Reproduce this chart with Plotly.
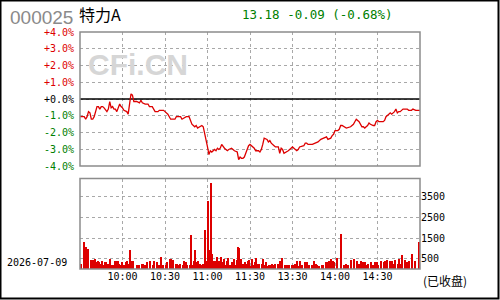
import plotly.graph_objects as go

# ---------------- data ----------------
PREV_CLOSE = 13.27
LAST_PRICE = 13.18
CODE = "000025"
NAME = "特力A"
DATE = "2026-07-09"
STATUS = "(已收盘)"

price_minutes = [0, 3, 4, 5, 6, 7, 8, 9, 10, 11, 12, 13, 14, 15, 16, 17, 19, 20, 21, 22,
                 23, 24, 25, 26, 27, 28, 29, 30, 31, 33, 34, 35, 36, 37, 38, 40, 42, 43, 44, 46,
                 48, 49, 51, 53, 55, 56, 59, 60, 62, 64, 67, 68, 71, 72, 74, 75, 77, 78, 79, 81,
                 82, 83, 85, 86, 87, 88, 89, 90, 91, 92, 93, 94, 95, 96, 97, 98, 99, 100, 101, 102,
                 104, 105, 107, 108, 109, 111, 112, 113, 114, 115, 116, 117, 118, 119, 120, 121, 123, 124, 126, 127,
                 128, 129, 130, 132, 133, 134, 135, 137, 138, 140, 141, 142, 143, 144, 146, 147, 148, 150, 151, 153,
                 154, 155, 158, 159, 160, 161, 164, 166, 168, 170, 172, 174, 175, 177, 178, 179, 180, 181, 182, 183,
                 184, 185, 187, 188, 191, 193, 194, 195, 197, 198, 199, 200, 201, 202, 203, 204, 205, 207, 208, 209,
                 210, 211, 214, 215, 216, 218, 219, 220, 222, 223, 224, 225, 226, 227, 228, 231, 232, 234, 235, 237,
                 240]
price_values = [13.13, 13.13, 13.11, 13.13, 13.17, 13.16, 13.11, 13.11, 13.13, 13.17, 13.21, 13.21, 13.19, 13.21, 13.21, 13.20, 13.17, 13.19, 13.25, 13.20,
                13.21, 13.19, 13.19, 13.17, 13.21, 13.23, 13.21, 13.20, 13.18, 13.17, 13.15, 13.25, 13.31, 13.30, 13.25, 13.25, 13.24, 13.26, 13.24, 13.23,
                13.23, 13.21, 13.21, 13.17, 13.17, 13.18, 13.18, 13.17, 13.15, 13.11, 13.11, 13.13, 13.13, 13.11, 13.12, 13.13, 13.13, 13.09, 13.07, 13.05,
                13.06, 13.04, 13.05, 13.06, 13.05, 13.00, 12.96, 12.89, 12.83, 12.86, 12.85, 12.86, 12.87, 12.86, 12.88, 12.87, 12.88, 12.91, 12.89, 12.88,
                12.86, 12.87, 12.88, 12.87, 12.86, 12.85, 12.79, 12.81, 12.80, 12.80, 12.81, 12.84, 12.88, 12.90, 12.91, 12.90, 12.88, 12.86, 12.86, 12.85,
                12.87, 12.91, 12.96, 12.95, 12.93, 12.94, 12.92, 12.90, 12.89, 12.89, 12.84, 12.88, 12.87, 12.84, 12.85, 12.86, 12.87, 12.89, 12.88, 12.86,
                12.87, 12.89, 12.90, 12.92, 12.92, 12.91, 12.91, 12.92, 12.93, 12.95, 12.96, 12.97, 12.95, 12.96, 12.98, 12.99, 13.02, 13.02, 13.02, 13.03,
                13.06, 13.06, 13.05, 13.04, 13.05, 13.07, 13.09, 13.11, 13.09, 13.07, 13.05, 13.05, 13.04, 13.05, 13.06, 13.08, 13.07, 13.06, 13.06, 13.09,
                13.10, 13.09, 13.09, 13.10, 13.13, 13.15, 13.16, 13.15, 13.17, 13.19, 13.16, 13.17, 13.17, 13.18, 13.19, 13.19, 13.18, 13.18, 13.19, 13.18,
                13.18]

vol_am = [260, 0, 1350, 0, 1110, 1010, 0, 480, 340, 480, 530, 340, 430, 340, 290, 430, 240, 340, 340, 290,
          290, 530, 240, 240, 390, 430, 430, 290, 240, 340, 240, 240, 340, 390, 290, 970, 430, 430, 0, 0,
          240, 240, 0, 290, 290, 240, 240, 340, 0, 390, 0, 240, 430, 0, 340, 240, 240, 630, 240, 0,
          240, 340, 0, 530, 530, 480, 0, 290, 290, 240, 290, 0, 240, 390, 340, 240, 0, 240, 1690, 240,
          430, 970, 340, 390, 290, 240, 290, 0, 1930, 390, 3330, 970, 4200, 770, 430, 430, 630, 390, 390, 630,
          340, 530, 240, 430, 580, 240, 240, 340, 530, 240, 480, 1110, 1060, 530, 290, 290, 340, 290, 390, 480]
vol_pm = [190, 530, 240, 340, 580, 290, 290, 0, 290, 530, 240, 340, 190, 240, 240, 290, 240, 290, 0, 290,
          0, 390, 580, 0, 240, 240, 240, 240, 0, 240, 240, 290, 0, 390, 190, 390, 240, 0, 340, 190,
          340, 240, 0, 240, 0, 390, 290, 240, 190, 0, 240, 240, 0, 340, 340, 430, 240, 530, 390, 340,
          0, 580, 0, 0, 1740, 0, 240, 290, 240, 240, 0, 480, 0, 530, 0, 430, 290, 290, 430, 340,
          240, 340, 240, 290, 0, 340, 240, 240, 340, 340, 240, 0, 390, 0, 340, 430, 480, 0, 430, 0,
          430, 290, 480, 0, 290, 530, 290, 720, 0, 480, 340, 290, 430, 0, 770, 0, 430, 0, 0, 1350]

pct_steps = [4, 3, 2, 1, 0, -1, -2, -3, -4]
pct_labels = ["+4.0%", "+3.0%", "+2.0%", "+1.0%", "+0.0%", "-1.0%", "-2.0%", "-3.0%", "-4.0%"]
price_labels = ["13.80", "13.67", "13.54", "13.40", "13.27", "13.14", "13.00", "12.87", "12.74"]
vol_ticks = [500, 1500, 2500, 3500]
vol_labels = ["500", "1500", "2500", "3500"]
time_ticks = [30, 60, 90, 120, 150, 180, 210]
time_labels = ["10:00", "10:30", "11:00", "11:30", "13:30", "14:00", "14:30"]

# ---------------- styling / layout ----------------
W, H = 500, 300
ML, MR, MT, MB = 80, 80, 32, 31
PW, PH = W - ML - MR, H - MT - MB

RED = "#dd0000"
GREEN = "#008000"
GRID = "#a8a8a8"
BORDER = "#8c8c8c"
MONO = "DejaVu Sans Mono"


def px_x(px):
    return (px - ML) / PW


def px_y(py):
    return (H - MB - py) / PH


price_dom = [px_y(166), 1.0]
vol_dom = [0.0, px_y(178.5)]

ymin = PREV_CLOSE * (1 - 0.04)
ymax = PREV_CLOSE * (1 + 0.04)
grid_vals = [PREV_CLOSE * (1 + k / 100) for k in pct_steps]


def colored(labels, steps):
    out = []
    for lab, k in zip(labels, steps):
        c = RED if k > 0 else (GREEN if k < 0 else "#000000")
        out.append(f'<span style="color:{c}">{lab}</span>')
    return out


fig = go.Figure()

fig.add_trace(go.Scatter(
    x=price_minutes, y=price_values, mode="lines",
    line=dict(color=RED, width=1.3), xaxis="x", yaxis="y",
    showlegend=False, hoverinfo="skip"))

vol_x = [i + 0.5 for i in range(len(vol_am))] + [len(vol_am) + j + 0.5 for j in range(len(vol_pm))]
fig.add_trace(go.Bar(
    x=vol_x, y=vol_am + vol_pm, width=0.72,
    marker=dict(color=RED, line=dict(width=0)),
    xaxis="x2", yaxis="y3", showlegend=False, hoverinfo="skip"))

tick_font = dict(family=MONO, size=10, color="#000000")

fig.update_layout(
    width=W, height=H,
    margin=dict(l=ML, r=MR, t=MT, b=MB, pad=0),
    paper_bgcolor="white", plot_bgcolor="white",
    bargap=0,
    xaxis=dict(domain=[0, 1], anchor="y", range=[0, 240], tickvals=time_ticks,
               showticklabels=False, ticks="", showgrid=True, gridcolor=GRID,
               griddash="dot", gridwidth=1, zeroline=False, showline=False),
    yaxis=dict(domain=price_dom, anchor="x", range=[ymin, ymax], tickvals=grid_vals,
               ticktext=colored(pct_labels, pct_steps), ticks="", side="left",
               showgrid=True, gridcolor=GRID, griddash="dot", gridwidth=1,
               zeroline=False, showline=False, tickfont=tick_font, ticklabelstandoff=5),
    yaxis2=dict(overlaying="y", anchor="x", side="right", range=[ymin, ymax],
                tickvals=grid_vals, ticktext=colored(price_labels, pct_steps), ticks="",
                showgrid=False, zeroline=False, showline=False, tickfont=tick_font,
                ticklabelstandoff=0),
    xaxis2=dict(domain=[0, 1], anchor="y3", range=[0, 240], tickvals=time_ticks,
                ticktext=time_labels, ticks="", showgrid=True, gridcolor=GRID,
                griddash="dot", gridwidth=1, zeroline=False, showline=False,
                tickfont=tick_font, ticklabelstandoff=0),
    yaxis3=dict(domain=vol_dom, anchor="x2", range=[0, 4390], side="right",
                tickvals=vol_ticks, ticktext=vol_labels, ticks="", showgrid=True,
                gridcolor=GRID, griddash="dot", gridwidth=1, zeroline=False,
                showline=False, tickfont=tick_font, ticklabelstandoff=0),
)

shapes = [
    # zero (previous close) line
    dict(type="line", xref="x", yref="y", x0=0, x1=240, y0=PREV_CLOSE, y1=PREV_CLOSE,
         line=dict(color="black", width=1.5), layer="between"),
    # panel borders
    dict(type="rect", xref="paper", yref="paper", x0=0, x1=1, y0=price_dom[0], y1=1,
         line=dict(color=BORDER, width=1.5)),
    dict(type="rect", xref="paper", yref="paper", x0=0, x1=1, y0=vol_dom[0], y1=vol_dom[1],
         line=dict(color=BORDER, width=1.5)),
    # outer frame
    dict(type="rect", xref="paper", yref="paper", x0=px_x(0.5), x1=px_x(498.5),
         y0=px_y(298.5), y1=px_y(0.5), line=dict(color="black", width=2)),
]
fig.update_layout(shapes=shapes)

change = LAST_PRICE - PREV_CLOSE
change_pct = change / PREV_CLOSE * 100
annotations = [
    dict(text=CODE, x=px_x(8), y=px_y(17), xanchor="left", yanchor="middle",
         font=dict(family="Liberation Sans", size=19, color="#8a8a8a")),
    dict(text=NAME, x=px_x(77), y=px_y(14), xanchor="left", yanchor="middle",
         font=dict(family="Noto Sans CJK SC", size=16, color="#000000")),
    dict(text=f"{LAST_PRICE:.2f} {change:+.2f} ({change_pct:+.2f}%)", x=px_x(240),
         y=px_y(14.5), xanchor="left", yanchor="middle",
         font=dict(family=MONO, size=12.5, color=GREEN)),
    dict(text="CFi.CN", x=px_x(138), y=px_y(64), xanchor="center", yanchor="middle",
         font=dict(family="Liberation Sans", size=30, color="#d6d6d6", weight="bold")),
    dict(text=DATE, x=px_x(5), y=px_y(262.5), xanchor="left", yanchor="middle",
         font=dict(family=MONO, size=10, color="#000000")),
    dict(text=STATUS, x=px_x(421), y=px_y(280), xanchor="left", yanchor="middle",
         font=dict(family="Noto Sans CJK SC", size=12, color="#000000")),
]
for a in annotations:
    a.update(xref="paper", yref="paper", showarrow=False)
fig.update_layout(annotations=annotations)

fig.write_html("out.html")
